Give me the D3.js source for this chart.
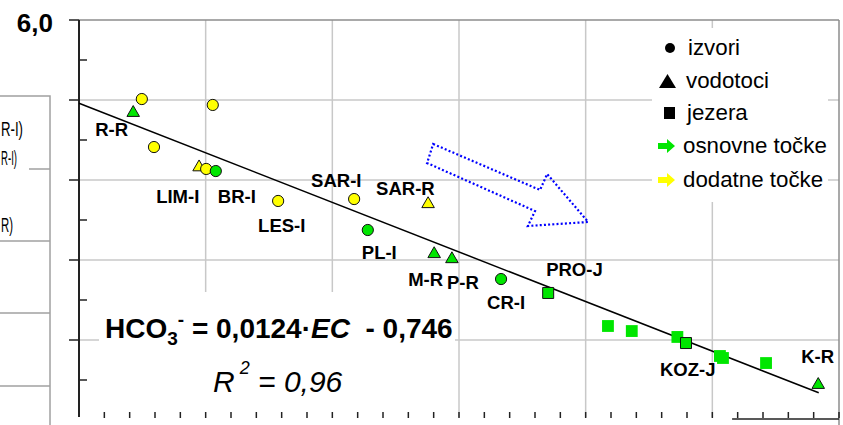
<!DOCTYPE html>
<html>
<head>
<meta charset="utf-8">
<script src="https://cdn.jsdelivr.net/npm/d3@7"></script>
<style>
  html, body { margin: 0; padding: 0; background: #fff; }
  svg { display: block; font-family: "Liberation Sans", Arial, sans-serif; }
  text { white-space: pre; }
</style>
</head>
<body>
<svg id="chart" width="843" height="425"></svg>
<script>
// ---------------- data ----------------
const ecValues   = [487.6, 489.3, 473.6, 485.2, 476.3, 474.9, 473.0, 460.7, 445.7, 431.1, 443.0, 429.9, 426.4, 416.7, 407.4, 395.6, 390.9, 381.9, 380.2, 373.5, 372.9, 364.4, 354.1];
const hco3Values = [5.506, 5.42, 5.469, 5.206, 5.08, 5.069, 5.056, 4.869, 4.881, 4.85, 4.6875, 4.5375, 4.506, 4.381, 4.294, 4.0875, 4.056, 4.019, 3.981, 3.90, 3.8875, 3.856, 3.72];
// izvori = circle, vodotoci = triangle, jezera = square
const pointKind  = ["izvori","vodotoci","izvori","izvori","vodotoci","izvori","izvori","izvori","izvori","vodotoci","izvori","vodotoci","vodotoci","izvori","jezera","jezera","jezera","jezera","jezera","jezera","jezera","jezera","vodotoci"];
// osnovne = green, dodatne = yellow
const pointGroup = ["dodatne","osnovne","dodatne","dodatne","dodatne","dodatne","osnovne","dodatne","dodatne","dodatne","osnovne","osnovne","osnovne","osnovne","osnovne","osnovne","osnovne","osnovne","osnovne","osnovne","osnovne","osnovne","osnovne"];
const pointName  = ["", "R-R", "", "", "", "LIM-I", "BR-I", "LES-I", "SAR-I", "SAR-R", "PL-I", "M-R", "P-R", "CR-I", "PRO-J", "", "", "", "KOZ-J", "", "", "", "K-R"];

const trendEC   = [500, 354];
const trendHCO3 = [5.48, 3.67];

const yMajorTicks = [6.0, 5.5, 5.0, 4.5, 4.0];
const yTickLabels = ["6,0"];
const xGridValues = [475, 450, 425, 400, 375];

const legendLabels = ["izvori", "vodotoci", "jezera", "osnovne točke", "dodatne točke"];
const legendMarks  = ["circle", "triangle", "square", "arrowGreen", "arrowYellow"];

// direction arrow annotation (data units)
const arrowEC   = [430.1, 409.0, 407.6, 399.5, 411.4, 410.0, 431.3];
const arrowHCO3 = [5.225, 4.9375, 5.0375, 4.7375, 4.7125, 4.806, 5.106];

// ---------------- layout ----------------
const svg = d3.select("#chart");
const L = 79, R = 839, T = 20, B = 420;
const x = d3.scaleLinear().domain([500, 350]).range([L, R]);
const y = d3.scaleLinear().domain([3.5, 6.0]).range([B, T]);
const GREEN = "#00e600", YELLOW = "#ffff00";
const colorOf = g => g === "osnovne" ? GREEN : YELLOW;

svg.append("rect").attr("width", 843).attr("height", 425).attr("fill", "#fff");

// gridlines
const grid = svg.append("g").attr("stroke", "#c8c8c8").attr("stroke-width", 1.5);
grid.selectAll("line.h").data(yMajorTicks.slice(1)).join("line")
  .attr("x1", L).attr("x2", R).attr("y1", d => y(d)).attr("y2", d => y(d));
grid.selectAll("line.v").data(xGridValues).join("line")
  .attr("y1", T).attr("y2", 417).attr("x1", d => x(d)).attr("x2", d => x(d));

// white boxes that cover grid (equation box and legend box)
svg.append("rect").attr("x", 99).attr("y", 292).attr("width", 356).attr("height", 126).attr("fill", "#fff");
svg.append("rect").attr("x", 652).attr("y", 28).attr("width", 176).attr("height", 174).attr("fill", "#fff");

// plot border (top / right)
svg.append("line").attr("x1", L).attr("x2", R).attr("y1", T).attr("y2", T).attr("stroke", "#8c8c8c").attr("stroke-width", 1.5);
svg.append("line").attr("x1", R).attr("x2", R).attr("y1", T).attr("y2", 425).attr("stroke", "#8c8c8c").attr("stroke-width", 1.5);

// y axis
const ax = svg.append("g").attr("stroke", "#222");
ax.append("line").attr("x1", L).attr("x2", L).attr("y1", T).attr("y2", 417).attr("stroke-width", 2);
ax.selectAll("line.maj").data(yMajorTicks).join("line")
  .attr("x1", L - 10).attr("x2", L).attr("y1", d => y(d)).attr("y2", d => y(d)).attr("stroke-width", 1.5);
const yMinor = d3.range(3.75, 6.0, 0.5);
ax.selectAll("line.min").data(yMinor).join("line")
  .attr("x1", L).attr("x2", L + 8).attr("y1", d => y(d)).attr("y2", d => y(d)).attr("stroke-width", 1.5);

// x ticks
const xTicks = d3.range(495, 349, -5);
ax.selectAll("line.xt").data(xTicks).join("line")
  .attr("x1", d => x(d)).attr("x2", d => x(d)).attr("y1", 412).attr("y2", 418).attr("stroke-width", 1.5);
// visible part of bottom axis line
ax.append("line").attr("x1", x(371.1)).attr("x2", R).attr("y1", 419).attr("y2", 419).attr("stroke-width", 1.5);

// y label
svg.append("text").attr("x", 53).attr("y", 32).attr("text-anchor", "end")
  .attr("font-size", 26).attr("font-weight", "bold").attr("fill", "#000").text(yTickLabels[0]);

// trend line
svg.append("line")
  .attr("x1", x(trendEC[0])).attr("y1", y(trendHCO3[0]))
  .attr("x2", x(trendEC[1])).attr("y2", y(trendHCO3[1]))
  .attr("stroke", "#000").attr("stroke-width", 1.5);

// points
const pts = d3.range(ecValues.length);
const bordered = i => pointKind[i] !== "jezera" || pointName[i] !== "";
svg.append("g").selectAll("path").data(pts).join("path")
  .attr("transform", i => `translate(${x(ecValues[i])},${y(hco3Values[i])})`)
  .attr("d", i => {
    const k = pointKind[i];
    if (k === "izvori") return d3.symbol(d3.symbolCircle, Math.PI * 5.6 * 5.6)();
    if (k === "vodotoci") return d3.symbol(d3.symbolTriangle, 68)();
    return d3.symbol(d3.symbolSquare, bordered(i) ? 121 : 140)();
  })
  .attr("fill", i => colorOf(pointGroup[i]))
  .attr("stroke", i => bordered(i) ? "#111" : "none")
  .attr("stroke-width", 1);

// point labels (offsets in px relative to the point)
const labelOffsets = {
  "R-R": [-38, 23], "LIM-I": [-50, 34], "BR-I": [2, 32], "LES-I": [-20, 31],
  "SAR-I": [-43, -12], "SAR-R": [-52, -9], "PL-I": [-6, 29], "M-R": [-26, 32],
  "P-R": [-5, 30], "CR-I": [-14, 30], "PRO-J": [-2, -17], "KOZ-J": [-26, 33], "K-R": [-17, -22]
};
svg.append("g").selectAll("text").data(pts.filter(i => pointName[i] !== "")).join("text")
  .attr("x", i => x(ecValues[i]) + labelOffsets[pointName[i]][0])
  .attr("y", i => y(hco3Values[i]) + labelOffsets[pointName[i]][1])
  .attr("font-size", 18.5).attr("font-weight", "bold").attr("fill", "#000")
  .text(i => pointName[i]);

// direction arrow (dotted blue)
svg.append("path")
  .attr("d", d3.line()(arrowEC.map((e, i) => [x(e), y(arrowHCO3[i])])) + "Z")
  .attr("fill", "none").attr("stroke", "#0000ff").attr("stroke-width", 2.2)
  .attr("stroke-dasharray", "2,2.2");

// equation
const eq = svg.append("text").attr("x", 105).attr("y", 338)
  .attr("font-size", 28).attr("font-weight", "bold").attr("fill", "#000");
eq.append("tspan").text("HCO");
eq.append("tspan").attr("font-size", 19).attr("dy", 7).text("3");
eq.append("tspan").attr("font-size", 19).attr("dy", -19).text("-");
eq.append("tspan").attr("dy", 12).text(" = 0,0124·");
eq.append("tspan").attr("font-style", "italic").text("EC");
eq.append("tspan").text("  - 0,746");

const r2 = svg.append("text").attr("x", 213).attr("y", 392)
  .attr("font-size", 30).attr("font-style", "italic").attr("fill", "#000");
r2.append("tspan").text("R");
r2.append("tspan").attr("font-size", 18).attr("dy", -18).text(" 2");
r2.append("tspan").attr("dy", 18).text(" = 0,96");

// legend
const legendBase = [55, 88, 120, 153, 187];
const legendTextX = [688, 686, 687, 683, 683];
const lg = svg.append("g");
legendLabels.forEach((lab, i) => {
  const cy = legendBase[i] - 7;
  const m = legendMarks[i];
  if (m === "circle") lg.append("circle").attr("cx", 670).attr("cy", cy).attr("r", 5).attr("fill", "#000");
  else if (m === "triangle") lg.append("path").attr("d", `M659,${cy + 7}L676,${cy + 7}L667.5,${cy - 7}Z`).attr("fill", "#000");
  else if (m === "square") lg.append("rect").attr("x", 664).attr("y", cy - 6).attr("width", 11).attr("height", 12).attr("fill", "#000");
  else {
    const c = m === "arrowGreen" ? GREEN : YELLOW;
    const x0 = 658;
    lg.append("path")
      .attr("d", `M${x0},${cy - 3}L${x0 + 9},${cy - 3}L${x0 + 9},${cy - 7}L${x0 + 17},${cy}L${x0 + 9},${cy + 7}L${x0 + 9},${cy + 3}L${x0},${cy + 3}Z`)
      .attr("fill", c);
  }
  lg.append("text").attr("x", legendTextX[i]).attr("y", legendBase[i])
    .attr("font-size", 22.3).attr("fill", "#000").text(lab);
});

// partially visible neighbouring box at the left edge
const lb = svg.append("g").attr("stroke", "#a0a0a0").attr("stroke-width", 1.5);
lb.append("rect").attr("x", -2).attr("y", 96).attr("width", 52).attr("height", 340).attr("fill", "#fff");
lb.append("line").attr("x1", 29).attr("x2", 50).attr("y1", 169).attr("y2", 169);
[241, 313, 386].forEach(v => lb.append("line").attr("x1", -2).attr("x2", 50).attr("y1", v).attr("y2", v));
// texts kept fully inside the page (compressed to the visible width)
const leftTexts = [["R-I)", 1, 23, 136], ["R-I)", 1, 17, 165], ["R)", 1, 13, 232]];
svg.append("g").selectAll("text").data(leftTexts).join("text")
  .attr("x", d => d[1]).attr("y", d => d[3])
  .attr("textLength", d => d[2] - d[1]).attr("lengthAdjust", "spacingAndGlyphs")
  .attr("font-size", 21).attr("fill", "#000").text(d => d[0]);
</script>
</body>
</html>
